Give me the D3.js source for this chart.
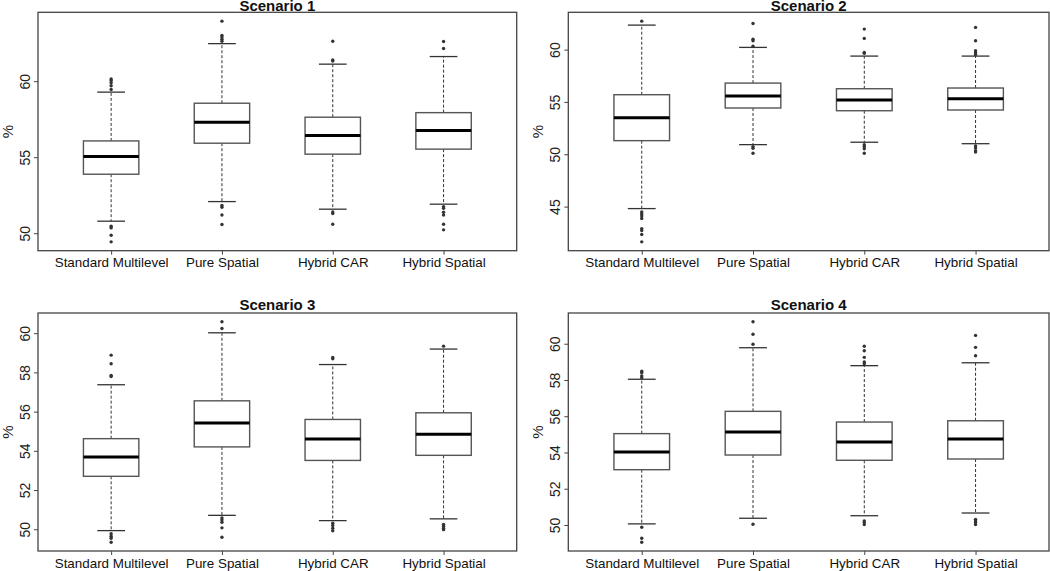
<!DOCTYPE html>
<html>
<head>
<meta charset="utf-8">
<script src="https://cdn.jsdelivr.net/npm/d3@7"></script>
<style>
  html, body { margin: 0; padding: 0; background: #fff; }
  svg { display: block; font-family: "Liberation Sans", Arial, sans-serif; }
</style>
</head>
<body>
<svg id="chart" width="1050" height="571"></svg>
<script>
// ---- data ----
const categories = ["Standard Multilevel", "Pure Spatial", "Hybrid CAR", "Hybrid Spatial"];
const titles = ["Scenario 1", "Scenario 2", "Scenario 3", "Scenario 4"];

// box stats per category: [lower whisker, Q1, median, Q3, upper whisker]
const s1Box = [
  [50.79, 53.88, 55.04, 56.07, 59.28],
  [52.08, 55.92, 57.30, 58.55, 62.47],
  [51.58, 55.20, 56.42, 57.63, 61.12],
  [51.91, 55.53, 56.75, 57.93, 61.62]
];
const s1Out = [
  [60.15, 60.05, 59.9, 59.7, 59.45, 50.46, 50.35, 49.87, 49.43],
  [63.95, 63.0, 62.9, 62.76, 62.63, 51.82, 51.71, 51.2, 50.57],
  [62.63, 61.4, 61.33, 51.4, 51.29, 50.59],
  [62.61, 62.15, 51.75, 51.64, 51.38, 51.2, 50.59, 50.22]
];
const s2Box = [
  [44.81, 51.30, 53.49, 55.69, 62.34],
  [50.92, 54.42, 55.56, 56.80, 60.21],
  [51.15, 54.16, 55.18, 56.26, 59.38],
  [51.01, 54.23, 55.31, 56.33, 59.38]
];
const s2Out = [
  [62.72, 44.49, 44.3, 44.11, 43.86, 42.9, 42.71, 42.33, 41.63],
  [62.5, 61.0, 60.84, 60.33, 50.73, 50.57, 50.1],
  [61.96, 61.07, 59.73, 59.64, 50.92, 50.73, 50.53, 50.1],
  [62.12, 60.84, 59.89, 59.7, 59.54, 50.79, 50.6, 50.34, 50.22]
];
const s3Box = [
  [49.93, 52.70, 53.69, 54.62, 57.37],
  [50.71, 54.20, 55.42, 56.55, 60.02],
  [50.44, 53.51, 54.60, 55.60, 58.40],
  [50.53, 53.77, 54.84, 55.94, 59.19]
];
const s3Out = [
  [58.88, 58.44, 57.84, 57.79, 49.77, 49.64, 49.54, 49.34],
  [60.58, 60.24, 50.58, 50.48, 50.36, 50.07, 49.59],
  [58.76, 58.69, 50.31, 50.19, 50.05, 49.92],
  [59.34, 50.25, 50.15, 50.05, 49.98]
];
const s4Box = [
  [50.06, 53.05, 54.03, 55.04, 58.04],
  [50.37, 53.86, 55.13, 56.27, 59.78],
  [50.51, 53.57, 54.58, 55.68, 58.79],
  [50.66, 53.64, 54.74, 55.75, 58.95]
];
const s4Out = [
  [58.48, 58.40, 58.22, 58.12, 49.87, 49.27, 49.05],
  [61.21, 60.52, 59.97, 50.04],
  [59.86, 59.61, 59.25, 58.99, 58.9, 50.22, 50.13, 50.02],
  [60.46, 59.80, 59.34, 50.31, 50.22, 50.13, 50.02]
];
const s1Ticks = [50, 55, 60];
const s2Ticks = [45, 50, 55, 60];
const s3Ticks = [50, 52, 54, 56, 58, 60];
const s4Ticks = [50, 52, 54, 56, 58, 60];
const yLabel = "%";

// ---- layout ----
const panels = [
  { title: titles[0], box: s1Box, out: s1Out, ticks: s1Ticks, x0: 38,    x1: 516.7, y0: 12.3,  y1: 250.7 },
  { title: titles[1], box: s2Box, out: s2Out, ticks: s2Ticks, x0: 568.3, x1: 1049,  y0: 12.3,  y1: 250.7 },
  { title: titles[2], box: s3Box, out: s3Out, ticks: s3Ticks, x0: 38,    x1: 516.7, y0: 313,   y1: 551 },
  { title: titles[3], box: s4Box, out: s4Out, ticks: s4Ticks, x0: 568.3, x1: 1049,  y0: 313,   y1: 551 }
];

const svg = d3.select("#chart");

panels.forEach(p => {
  const g = svg.append("g");
  const all = p.box.flat().concat(p.out.flat());
  const [mn, mx] = d3.extent(all);
  const pad = (mx - mn) * 0.04;
  const y = d3.scaleLinear().domain([mn - pad, mx + pad]).range([p.y1, p.y0]);
  const x = d3.scaleLinear().domain([0.34, 4.66]).range([p.x0, p.x1]);
  const bw = x(1.25) - x(1);        // half box width
  const cw = bw / 2;                // half cap width

  p.box.forEach((s, i) => {
    const cx = x(i + 1);
    const [lo, q1, md, q3, hi] = s;
    g.append("line").attr("x1", cx).attr("x2", cx).attr("y1", y(q3)).attr("y2", y(hi))
      .attr("stroke", "#333").attr("stroke-width", 1).attr("stroke-dasharray", "3,2");
    g.append("line").attr("x1", cx).attr("x2", cx).attr("y1", y(q1)).attr("y2", y(lo))
      .attr("stroke", "#333").attr("stroke-width", 1).attr("stroke-dasharray", "3,2");
    [lo, hi].forEach(v => {
      g.append("line").attr("x1", cx - cw).attr("x2", cx + cw).attr("y1", y(v)).attr("y2", y(v))
        .attr("stroke", "#333").attr("stroke-width", 1.3);
    });
    g.append("rect").attr("x", cx - bw).attr("width", 2 * bw)
      .attr("y", y(q3)).attr("height", y(q1) - y(q3))
      .attr("fill", "#fff").attr("stroke", "#555").attr("stroke-width", 1.4);
    g.append("line").attr("x1", cx - bw).attr("x2", cx + bw).attr("y1", y(md)).attr("y2", y(md))
      .attr("stroke", "#000").attr("stroke-width", 3);
    g.selectAll(null).data(p.out[i]).enter().append("circle")
      .attr("cx", cx).attr("cy", d => y(d)).attr("r", 1.7).attr("fill", "#333");
  });

  g.append("rect").attr("x", p.x0).attr("y", p.y0)
    .attr("width", p.x1 - p.x0).attr("height", p.y1 - p.y0)
    .attr("fill", "none").attr("stroke", "#444").attr("stroke-width", 1.3);

  const ya = g.append("g").attr("transform", `translate(${p.x0},0)`)
    .call(d3.axisLeft(y).tickValues(p.ticks).tickSize(4).tickFormat(d3.format("d")));
  ya.select(".domain").remove();
  ya.selectAll(".tick line").attr("stroke", "#444").attr("stroke-width", 1);
  ya.selectAll(".tick text")
    .attr("x", null).attr("dy", null)
    .attr("transform", "translate(-8,0) rotate(-90)")
    .attr("text-anchor", "middle")
    .attr("font-size", "14px").attr("fill", "#222")
    .attr("font-family", "Liberation Sans, Arial, sans-serif");

  const xa = g.append("g").attr("transform", `translate(0,${p.y1})`)
    .call(d3.axisBottom(x).tickValues([1, 2, 3, 4]).tickSize(4).tickFormat((d, i) => categories[i]));
  xa.select(".domain").remove();
  xa.selectAll(".tick line").attr("stroke", "#444").attr("stroke-width", 1);
  xa.selectAll(".tick text").attr("y", 16.5).attr("dy", null)
    .attr("font-size", "13.4px").attr("fill", "#111")
    .attr("font-family", "Liberation Sans, Arial, sans-serif");

  g.append("text").attr("transform", `translate(${p.x0 - 25},${(p.y0 + p.y1) / 2}) rotate(-90)`)
    .attr("text-anchor", "middle").attr("font-size", "15px").attr("fill", "#222").text(yLabel);

  g.append("text").attr("x", (p.x0 + p.x1) / 2).attr("y", Math.max(p.y0 - 3, 11.3))
    .attr("text-anchor", "middle").attr("font-size", "15px").attr("font-weight", "bold")
    .attr("fill", "#111").text(p.title);
});
</script>
</body>
</html>
